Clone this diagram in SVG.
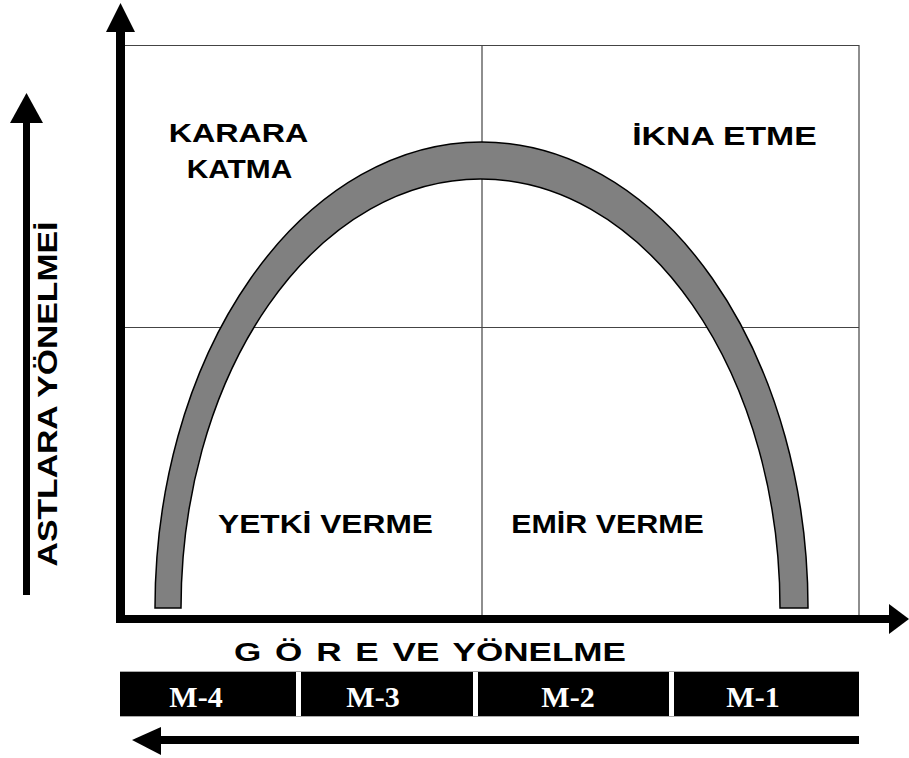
<svg xmlns="http://www.w3.org/2000/svg" width="909" height="758" viewBox="0 0 909 758">
<style>
.lbl{font-family:"Liberation Sans",Arial,sans-serif;font-weight:bold;font-size:26px;fill:#000;text-anchor:middle}
.m{font-family:"Liberation Serif","Times New Roman",serif;font-weight:bold;font-size:30px;fill:#fff;text-anchor:middle}
.grid{stroke:#444;stroke-width:1.2;fill:none}
.box{fill:#000}
</style>
<rect width="909" height="758" fill="#fff"/>
<g id="grid">
<path class="grid" d="M125 45.5H859V616M482 45.5V616M125 327.5H859"/>
</g>
<g id="arch">
<path d="M155 608 A326.5 466 0 0 1 808 608 L780 608 A299.5 429 0 0 0 181 608 Z" fill="#808080" stroke="#000" stroke-width="1.5"/>
</g>
<g id="connectors">
<line x1="120.5" y1="30" x2="120.5" y2="623" stroke="#000" stroke-width="9"/>
<polygon points="120.5,3 135,32 106,32" fill="#000"/>
<line x1="116" y1="619" x2="891" y2="619" stroke="#000" stroke-width="8"/>
<polygon points="909,619 889,604 889,634" fill="#000"/>
<line x1="26.5" y1="120" x2="26.5" y2="595" stroke="#000" stroke-width="7"/>
<polygon points="26.5,93 43,123 10,123" fill="#000"/>
<line x1="159" y1="740" x2="859" y2="740" stroke="#000" stroke-width="8"/>
<polygon points="132,740 161,727 161,755" fill="#000"/>
</g>
<g id="q-karara">
<text class="lbl" transform="translate(238.5,142) scale(1.24,1)">KARARA</text>
<text class="lbl" transform="translate(239.5,178) scale(1.15,1)">KATMA</text>
</g>
<g id="q-ikna">
<text class="lbl" transform="translate(724.5,145) scale(1.3,1)">İKNA ETME</text>
</g>
<g id="q-yetki">
<text class="lbl" transform="translate(325.5,533) scale(1.22,1)">YETKİ VERME</text>
</g>
<g id="q-emir">
<text class="lbl" transform="translate(607.5,533) scale(1.17,1)">EMİR VERME</text>
</g>
<g id="y-label">
<text class="lbl" style="font-size:27px" transform="translate(57,394) rotate(-90) scale(1.25,1)">ASTLARA YÖNELMEİ</text>
</g>
<g id="x-label">
<text class="lbl" style="word-spacing:3px" transform="translate(430,661) scale(1.35,1)">G Ö R E VE YÖNELME</text>
</g>
<g id="bar">
<line x1="120" y1="671.5" x2="859" y2="671.5" stroke="#aaa" stroke-width="1"/>
<line x1="120" y1="716.5" x2="859" y2="716.5" stroke="#aaa" stroke-width="1"/>
<g id="m4"><rect class="box" x="120" y="672" width="176" height="44"/><text class="m" x="196" y="707">M-4</text></g>
<g id="m3"><rect class="box" x="301" y="672" width="172" height="44"/><text class="m" x="373" y="707">M-3</text></g>
<g id="m2"><rect class="box" x="478" y="672" width="191" height="44"/><text class="m" x="568" y="707">M-2</text></g>
<g id="m1"><rect class="box" x="674" y="672" width="185" height="44"/><text class="m" x="753" y="707">M-1</text></g>
</g>
</svg>
